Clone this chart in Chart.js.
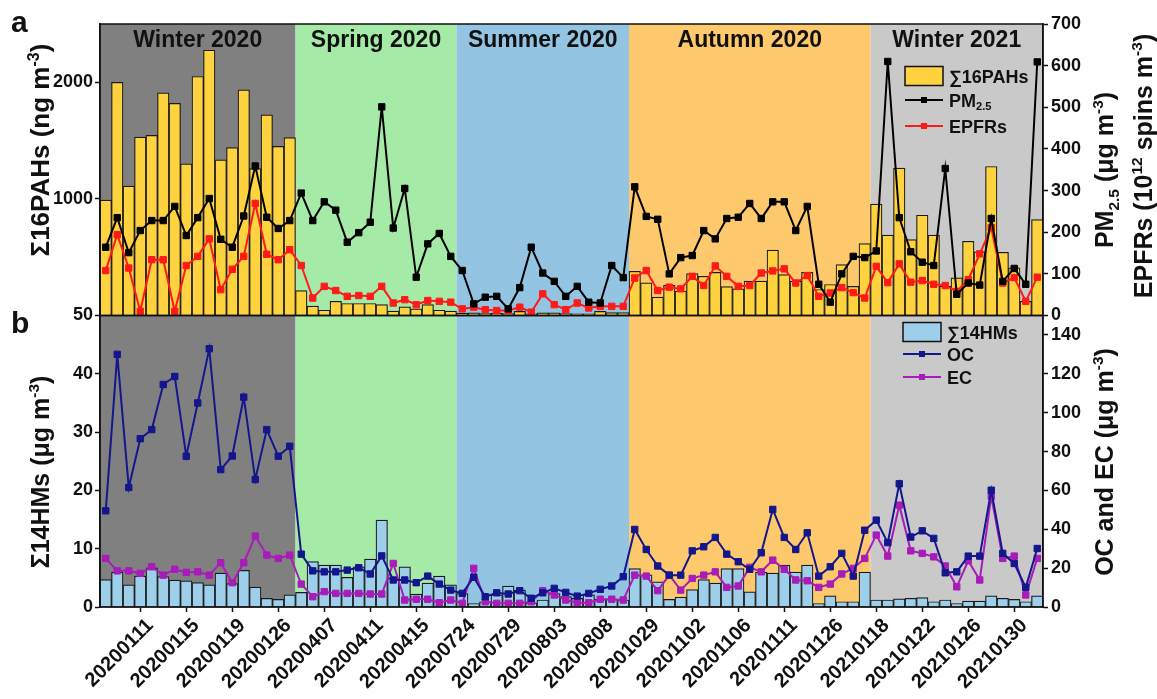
<!DOCTYPE html>
<html>
<head>
<meta charset="utf-8">
<script src="https://cdn.jsdelivr.net/npm/chart.js@4/dist/chart.umd.min.js"></script>
<style>
  html, body { margin: 0; padding: 0; background: #fff; }
  #wrap { position: relative; width: 1157px; height: 699px; }
</style>
</head>
<body>
<div id="wrap"><canvas id="c" width="1157" height="699"></canvas></div>
<script>
// ---- sampling days (every 4th sample carries a date label) ----
const tickLabels = ['20200111','20200115','20200119','20200126','20200407','20200411','20200415',
  '20200724','20200729','20200803','20200808','20201029','20201102','20201106','20201111','20201126',
  '20210118','20210122','20210126','20210130'];
const sampleCount = 82;
const categories = Array.from({length: sampleCount}, (_, i) =>
  (i >= 3 && (i - 3) % 4 === 0) ? tickLabels[(i - 3) / 4] : '');

// ---- seasons ----
const seasons = ['Winter 2020', 'Spring 2020', 'Summer 2020', 'Autumn 2020', 'Winter 2021'];
const seasonSamples = [17, 14, 15, 21, 15];
const seasonColors = ['#808080', '#a6eaa7', '#93c5e2', '#fec96c', '#c9c9c9'];

// ---- panel a: Σ16PAHs (ng m-3), PM2.5 (µg m-3), EPFRs (10^12 spins m-3) ----
const pahs = [990, 2000, 1110, 1530, 1545, 1910, 1820, 1300, 2050, 2275, 1335, 1440, 1935, 1260, 1720, 1450, 1525,
  214, 80, 45, 122, 103, 103, 103, 94, 37, 74, 57, 94, 45, 37,
  20, 22, 17, 20, 17, 35, 15, 22, 22, 17, 15, 15, 35, 25, 25,
  379, 280, 157, 259, 208, 360, 336, 370, 247, 229, 295, 295, 560, 351, 295, 370, 223, 266, 437, 250, 616,
  956, 690, 1264, 651, 860, 690, 251, 323, 636, 545, 1278, 542, 408, 122, 822];
const pm25 = [164, 235, 151, 204, 228, 228, 262, 192, 235, 281, 183, 164, 239, 359, 236, 209, 228,
  294, 228, 273, 253, 176, 199, 224, 501, 210, 305, 92, 172, 197, 142,
  108, 28, 44, 46, 16, 67, 164, 102, 82, 46, 70, 32, 30, 120, 91,
  309, 238, 231, 100, 139, 144, 204, 184, 233, 236, 269, 233, 273, 273, 204, 262, 75, 32, 100, 142, 139,
  155, 610, 235, 153, 128, 120, 353, 51, 78, 73, 233, 82, 113, 75, 609];
const epfrs = [108, 194, 114, 10, 134, 134, 10, 120, 142, 184, 62, 111, 142, 269, 147, 134, 158,
  120, 42, 70, 60, 46, 48, 46, 70, 30, 38, 26, 36, 34, 32,
  16, 20, 14, 12, 12, 20, 8, 52, 26, 14, 30, 18, 22, 22, 22,
  90, 108, 60, 68, 64, 94, 72, 119, 94, 70, 72, 102, 107, 112, 78, 96, 46, 54, 67, 55, 42,
  118, 79, 124, 80, 84, 75, 72, 58, 86, 148, 211, 78, 91, 34, 92];

// ---- panel b: Σ14HMs (µg m-3), OC and EC (µg m-3) ----
const hms = [4.7, 6.0, 3.8, 5.3, 6.7, 5.2, 4.6, 4.5, 4.2, 3.8, 5.8, 4.0, 6.3, 3.4, 1.5, 1.3, 2.1,
  2.5, 7.8, 7.2, 7.2, 5.1, 6.9, 8.2, 14.9, 4.9, 6.9, 2.2, 4.1, 5.3, 3.8,
  2.3, 0.6, 0.9, 2.1, 3.6, 2.9, 0.7, 1.2, 2.3, 1.8, 1.5, 2.1, 1.3, 1.3, 1.2,
  6.6, 5.5, 4.3, 1.3, 1.7, 3.0, 4.7, 4.1, 6.6, 6.6, 2.6, 6.0, 5.8, 7.2, 6.0, 7.2, 0.6, 1.9, 0.9, 0.9, 6.0,
  1.2, 1.2, 1.4, 1.5, 1.6, 0.9, 1.2, 0.6, 1.0, 1.0, 1.9, 1.5, 1.3, 0.9, 1.9];
const oc = [49.5, 130, 61.5, 86.6, 91.3, 114.5, 118.6, 77.6, 105, 132.9, 70.7, 77.7, 108, 65.6, 91.3, 77.6, 82.7,
  27.2, 18.6, 18.1, 18.1, 19, 20.2, 17, 26.3, 13.9, 13.9, 12.5, 15.9, 11.8, 8.7,
  7, 15.3, 5.3, 7.3, 6.7, 8.4, 4.5, 7.3, 9.6, 7.5, 5.6, 7, 9.1, 10.8, 15.6,
  39.9, 29.6, 21.1, 16.4, 16.4, 28.9, 31, 35.8, 27.2, 23.3, 19.4, 27.9, 50.2, 35.8, 29.6, 38.2, 15.9, 20.7, 27.6, 15.9, 39.5,
  44.7, 33.1, 63.4, 36, 39.2, 35.3, 17.6, 18.1, 26.2, 26.2, 60.1, 27.6, 22.4, 10.1, 30.1];
const ec = [25, 18.6, 18.6, 17.3, 20.7, 16.4, 19.4, 17.8, 18.1, 16.4, 22.8, 12.5, 22.8, 36.5, 26.7, 25, 26.7,
  11.8, 5.3, 7.9, 7, 7, 7, 6.7, 6.7, 22.4, 3.6, 4, 4, 2.2, 3.6,
  1.9, 19.9, 2.7, 1.9, 1.9, 1.9, 2.7, 8.4, 6.2, 3.6, 2.2, 2.2, 4, 4, 3.6,
  16.4, 15.9, 8.4, 16.4, 8.7, 14.7, 16.4, 18.1, 10.1, 10.8, 20.4, 18.1, 24.1, 19.4, 13.9, 13.5, 10.1, 11.8, 17, 19.9, 25,
  37, 26.2, 52.4, 28.9, 27.6, 25.8, 21.1, 10.4, 23.8, 13.9, 57, 25, 26.2, 6.2, 25];

// ---- axis tick values ----
const pahTicks = [1000, 2000];
const pmTicks = [0, 100, 200, 300, 400, 500, 600, 700];
const hmTicks = [0, 10, 20, 30, 40, 50];
const ocTicks = [0, 20, 40, 60, 80, 100, 120, 140];

const FONT = '"Liberation Sans", Arial, Helvetica, sans-serif';
const INK = '#111';

function fontStr(size) { return `bold ${size}px ${FONT}`; }

// draws a run of [text, mode] pieces; mode 1 = superscript, -1 = subscript
function richText(ctx, parts, x, y, size, align) {
  const small = size * 0.62;
  let w = 0;
  parts.forEach(([t, m]) => { ctx.font = fontStr(m ? small : size); w += ctx.measureText(t).width; });
  let cx = align === 'center' ? x - w / 2 : x;
  ctx.textAlign = 'left';
  ctx.textBaseline = 'alphabetic';
  parts.forEach(([t, m]) => {
    ctx.font = fontStr(m ? small : size);
    const dy = m === 1 ? -size * 0.4 : (m === -1 ? size * 0.22 : 0);
    ctx.fillText(t, cx, y + dy);
    cx += ctx.measureText(t).width;
  });
}

function verticalTitle(ctx, parts, cx, cy, size) {
  ctx.save();
  ctx.translate(cx, cy);
  ctx.rotate(-Math.PI / 2);
  ctx.fillStyle = INK;
  richText(ctx, parts, 0, size * 0.36, size, 'center');
  ctx.restore();
}

function seasonSpans(chart) {
  const x = chart.scales.x, a = chart.chartArea;
  const spans = [];
  let start = 0;
  seasonSamples.forEach((n, k) => {
    const end = start + n;
    const x0 = start === 0 ? a.left : (x.getPixelForValue(start - 1) + x.getPixelForValue(start)) / 2;
    const x1 = end >= sampleCount ? a.right : (x.getPixelForValue(end - 1) + x.getPixelForValue(end)) / 2;
    spans.push([x0, x1, k]);
    start = end;
  });
  return spans;
}

const seasonBackground = {
  id: 'seasonBackground',
  beforeDraw(chart) {
    const {ctx, chartArea: a} = chart;
    ctx.save();
    seasonSpans(chart).forEach(([x0, x1, k]) => {
      ctx.fillStyle = seasonColors[k];
      ctx.fillRect(x0, a.top, x1 - x0, a.bottom - a.top);
    });
    ctx.restore();
  }
};

const decorations = {
  id: 'decorations',
  afterDraw(chart) {
    const {ctx, chartArea: a, scales} = chart;
    ctx.save();
    // panel frames
    ctx.strokeStyle = INK;
    ctx.lineWidth = 1.5;
    [scales.pah, scales.hm].forEach(s => ctx.strokeRect(a.left, s.top, a.right - a.left, s.bottom - s.top));

    // season names
    ctx.fillStyle = INK;
    seasonSpans(chart).forEach(([x0, x1, k]) => {
      richText(ctx, [[seasons[k], 0]], (x0 + x1) / 2, scales.pah.top + 23, 23, 'center');
    });

    // panel letters
    ctx.font = fontStr(30);
    ctx.textAlign = 'left';
    ctx.textBaseline = 'alphabetic';
    ctx.fillText('a', 11, 32);
    ctx.fillText('b', 11, 333);

    // axis titles
    verticalTitle(ctx, [['Σ16PAHs (ng m', 0], ['-3', 1], [')', 0]], 40, 150, 26);
    verticalTitle(ctx, [['Σ14HMs (μg m', 0], ['-3', 1], [')', 0]], 40, 472, 25);
    verticalTitle(ctx, [['PM', 0], ['2.5', -1], [' (μg m', 0], ['-3', 1], [')', 0]], 1104, 170, 25);
    verticalTitle(ctx, [['EPFRs (10', 0], ['12', 1], [' spins m', 0], ['-3', 1], [')', 0]], 1143, 166, 25);
    verticalTitle(ctx, [['OC and EC (μg m', 0], ['-3', 1], [')', 0]], 1104, 462, 25);

    // legends
    const drawBarKey = (x, y, fill, parts) => {
      ctx.fillStyle = fill;
      ctx.fillRect(x, y - 9.5, 38, 19);
      ctx.strokeStyle = INK; ctx.lineWidth = 1.5;
      ctx.strokeRect(x, y - 9.5, 38, 19);
      ctx.fillStyle = INK;
      richText(ctx, parts, x + 44, y + 6.5, 18, 'left');
    };
    const drawLineKey = (x, y, color, parts) => {
      ctx.strokeStyle = color; ctx.lineWidth = 2;
      ctx.beginPath(); ctx.moveTo(x, y); ctx.lineTo(x + 38, y); ctx.stroke();
      ctx.fillStyle = color;
      ctx.fillRect(x + 19 - 3, y - 3, 6, 6);
      ctx.fillStyle = INK;
      richText(ctx, parts, x + 44, y + 6.5, 18, 'left');
    };
    drawBarKey(905, 76, '#ffd33f', [['∑16PAHs', 0]]);
    drawLineKey(905, 100, '#000', [['PM', 0], ['2.5', -1]]);
    drawLineKey(905, 126, '#ff1a1a', [['EPFRs', 0]]);
    drawBarKey(903, 332, '#9dcfeb', [['∑14HMs', 0]]);
    drawLineKey(903, 354, '#14168c', [['OC', 0]]);
    drawLineKey(903, 377, '#a81cb8', [['EC', 0]]);
    ctx.restore();
  }
};

function yAxis(pos, stack, weight, min, max, ticksList) {
  return {
    type: 'linear', position: pos, stack: stack, stackWeight: 1, weight: weight,
    min: min, max: max,
    grid: { drawOnChartArea: false, tickLength: 5, tickColor: INK, tickWidth: 1.5 },
    border: { display: true, color: INK, width: 1.5 },
    ticks: { autoSkip: false, font: { family: FONT, size: 18, weight: 'bold' }, color: INK,
             padding: pos === 'left' ? 2 : 3, callback: v => String(v) },
    afterBuildTicks: s => { s.ticks = ticksList.map(v => ({ value: v })); },
    afterFit: s => { s.width = pos === 'left' ? 100 : 114; }
  };
}

const barStyle = { barPercentage: 1, categoryPercentage: 1, grouped: false, borderWidth: 1.2, borderColor: '#1a1a1a', order: 2 };
const lineStyle = (color) => ({
  type: 'line', borderColor: color, backgroundColor: color, pointBackgroundColor: color,
  pointBorderColor: color, borderWidth: 2, pointStyle: 'rect', pointRadius: 4.5, pointBorderWidth: 1,
  tension: 0, order: 1
});

new Chart(document.getElementById('c'), {
  type: 'bar',
  data: {
    labels: categories,
    datasets: [
      Object.assign({ label: '∑16PAHs', data: pahs, yAxisID: 'pah', backgroundColor: '#ffd33f' }, barStyle),
      Object.assign({ label: '∑14HMs', data: hms, yAxisID: 'hm', backgroundColor: '#9dcfeb' }, barStyle),
      Object.assign({ label: 'PM2.5', data: pm25, yAxisID: 'pm' }, lineStyle('#000000')),
      Object.assign({ label: 'EPFRs', data: epfrs, yAxisID: 'pm' }, lineStyle('#ff1a1a')),
      Object.assign({ label: 'OC', data: oc, yAxisID: 'oc' }, lineStyle('#14168c')),
      Object.assign({ label: 'EC', data: ec, yAxisID: 'oc' }, lineStyle('#a81cb8'))
    ]
  },
  options: {
    responsive: false,
    animation: false,
    devicePixelRatio: 1,
    layout: { padding: { top: 24, left: 0, right: 0, bottom: 0 } },
    plugins: { legend: { display: false }, tooltip: { enabled: false } },
    scales: {
      x: {
        type: 'category', position: 'bottom',
        grid: { drawOnChartArea: false, offset: false, tickLength: 5, tickWidth: 1.5,
                tickColor: c => categories[c.index] ? INK : 'rgba(0,0,0,0)' },
        border: { display: true, color: INK, width: 1.5 },
        ticks: { autoSkip: false, minRotation: 45, maxRotation: 45, padding: 2, labelOffset: 10,
                 font: { family: FONT, size: 20, weight: 'bold' }, color: INK,
                 callback: (v, i) => categories[i] },
        afterFit: s => { s.height = 92; }
      },
      pah: yAxis('left', 'L', 2, 0, 2500, pahTicks),
      hm: yAxis('left', 'L', 1, 0, 50, hmTicks),
      pm: yAxis('right', 'R', 1, 0, 700, pmTicks),
      oc: yAxis('right', 'R', 2, 0, 150, ocTicks)
    }
  },
  plugins: [seasonBackground, decorations]
});
</script>
</body>
</html>
